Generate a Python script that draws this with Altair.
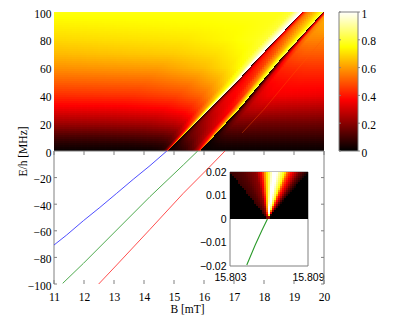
import altair as alt
import numpy as np
import pandas as pd

alt.data_transformers.disable_max_rows()

# ---- values ----
blue_B = [11.0, 11.42, 11.98, 12.53, 13.09, 13.64, 14.2, 14.76]
blue_E = [-70.7, -63.2, -52.4, -42.4, -31.8, -21.3, -11, 0]
green_B = [11.29, 11.98, 13.09, 14.2, 15.31, 15.79]
green_E = [-99.5, -84.5, -59.4, -34.3, -10.5, 0]
red_B = [12.49, 13.09, 14.2, 15.31, 16.14, 16.7]
red_E = [-100, -85.7, -58.9, -31.8, -13, 0]
faint_B = [17.27, 18.0, 19.0, 20.0]
faint_E = [13, 30, 56, 81.4]
inset_B = [15.80588, 15.80545, 15.80493, 15.80429]
inset_E = [0, -0.0049, -0.0112, -0.0196]

B_ticks = list(range(11, 21))
E_up = [0, 20, 40, 60, 80, 100]
E_low = [-100, -80, -60, -40, -20]
cbar_ticks = [0, 0.2, 0.4, 0.6, 0.8, 1]
inset_xt = [15.803, 15.809]
inset_yt = [-0.02, -0.01, 0, 0.01, 0.02]

# ridge positions (B at given E) and sampled field levels around them
ridge0_E = [0, 50, 65.5, 100]
ridge0_B = [14.77, 17.1, 17.75, 19.27]
ridge1_E = [0, 31, 65.5, 100]
ridge1_B = [15.87, 17.2, 18.53, 19.97]
rows_E = [0, 5, 10, 20, 30, 40, 50, 60, 70, 80, 90, 100]
left_w = [-9, -3, -1.5, -.7, -.35, -.15, -.05, 0]
left_v = [
    [.01, .01, .01, .01, .02, .04, .15, .4],
    [.05, .05, .05, .06, .07, .1, .25, .55],
    [.1, .1, .11, .12, .14, .2, .4, .7],
    [.22, .23, .24, .27, .3, .42, .6, .9],
    [.33, .34, .36, .4, .45, .58, .8, 1],
    [.42, .44, .47, .52, .58, .7, .9, 1],
    [.5, .52, .56, .62, .68, .78, .95, 1],
    [.57, .6, .65, .7, .74, .85, 1, 1],
    [.63, .67, .7, .74, .78, .9, 1, 1],
    [.68, .71, .74, .77, .8, .93, 1, 1],
    [.72, .74, .75, .77, .8, .93, 1, 1],
    [.76, .76, .77, .77, .8, .93, 1, 1],
]
mid_f = [0, .04, .12, .25, .5, .75, .9, 1]
mid_v = [
    [0, .01, .02, .03, .06, .12, .25, .5],
    [0, .02, .05, .08, .12, .2, .33, .6],
    [0, .04, .1, .14, .18, .26, .4, .7],
    [0, .08, .18, .22, .27, .32, .5, .78],
    [0, .12, .25, .3, .33, .38, .58, .82],
    [0, .15, .3, .35, .37, .45, .68, .85],
    [0, .18, .33, .37, .42, .55, .72, .85],
    [0, .2, .35, .4, .46, .6, .74, .85],
    [0, .22, .38, .43, .5, .62, .75, .85],
    [0, .25, .4, .48, .56, .66, .75, .85],
    [0, .28, .42, .52, .6, .68, .75, .85],
    [0, .3, .45, .55, .62, .7, .76, .85],
]
right_w = [0, .05, .15, .3, .6, 1.2, 2.5, 4.5]
right_v = [
    [0, 0, .005, .01, .01, .01, .01, .01],
    [0, .01, .02, .03, .04, .04, .04, .04],
    [0, .02, .05, .07, .08, .08, .08, .08],
    [0, .05, .13, .17, .17, .16, .16, .15],
    [0, .08, .2, .26, .27, .26, .25, .24],
    [0, .1, .25, .32, .35, .35, .34, .32],
    [0, .12, .3, .37, .38, .39, .39, .38],
    [0, .15, .33, .42, .43, .44, .44, .44],
    [0, .2, .4, .48, .5, .5, .5, .5],
    [0, .25, .5, .56, .56, .56, .56, .56],
    [0, .3, .55, .6, .62, .62, .62, .6],
    [0, .3, .6, .65, .65, .65, .65, .65],
]
fan_off = [-2.9, -1.9, -.9, -.46, -.15, .15, .38, .7, .92, 1.3, 1.54, 1.9, 2.5, 3.1]
fan_val = [.08, .12, .2, .38, .65, .85, 1, 1, .9, .75, .5, .35, .15, .03]
fan_apex = 15.8059


def sample(table, cols, E, c):
    tab = np.array(table, dtype=float)
    prof = [np.interp(E, rows_E, tab[:, j]) for j in range(tab.shape[1])]
    return float(np.interp(c, cols, prof))


def field(B, E):
    l0 = np.interp(E, ridge0_E, ridge0_B)
    l1 = np.interp(E, ridge1_E, ridge1_B)
    if B < l0:
        return sample(left_v, left_w, E, B - l0)
    if B < l1:
        return sample(mid_v, mid_f, E, (B - l0) / (l1 - l0))
    return sample(right_v, right_w, E, B - l1)


PX_B = 9 / 270
PX_E = 100 / 139
cells = []
for i in range(135):
    for j in range(70):
        b0 = 11 + 2 * i * PX_B
        e0 = 2 * j * PX_E
        cells.append(dict(b0=round(b0, 4), b1=round(b0 + 2 * PX_B, 4),
                          e0=round(e0, 4), e1=round(min(e0 + 2 * PX_E, 100), 4),
                          v=round(field(b0 + PX_B, e0 + PX_E), 3)))
# finer cells along the two ridges, drawn over the coarse ones
for i in range(270):
    for j in range(139):
        b0 = 11 + i * PX_B
        e0 = j * PX_E
        bm, em = b0 + PX_B / 2, e0 + PX_E / 2
        if min(abs(bm - np.interp(em, ridge0_E, ridge0_B)), abs(bm - np.interp(em, ridge1_E, ridge1_B))) < 0.3:
            cells.append(dict(b0=round(b0, 4), b1=round(b0 + PX_B, 4),
                              e0=round(e0, 4), e1=round(e0 + PX_E, 4),
                              v=round(field(bm, em), 3)))
heat_df = pd.DataFrame(cells)

icells = []
IX = 0.006 / 78
IY = 0.02 / 47
for i in range(39):
    for j in range(23):
        b0 = 15.803 + 2 * i * IX
        e0 = 2 * j * IY + IY
        em = e0 + IY
        off = (b0 + IX - fan_apex) * 1000 / (em / 0.02)
        icells.append(dict(b0=b0, b1=b0 + 2 * IX, e0=e0 - IY if j == 0 else e0, e1=e0 + 2 * IY,
                           v=round(float(np.interp(off, fan_off, fan_val, left=0, right=0)), 3)))
inset_df = pd.DataFrame(icells)

cb_df = pd.DataFrame({"a": [k / 139 for k in range(139)], "b": [(k + 1) / 139 for k in range(139)]})
cb_df["v"] = cb_df["a"]

# ---- scales ----
GRAY = "#808080"
SERIF = "Liberation Serif"
SANS = "Liberation Sans"
color = alt.Scale(domain=[0, .365, .746, 1], range=["#000000", "#ff0000", "#ffff00", "#ffffff"], interpolate="rgb")
X = alt.Scale(domain=[11, 20], range=[0, 270])
YU = alt.Scale(domain=[0, 100], range=[139, 0])
YL = alt.Scale(domain=[-100, 0], range=[272, 139])
IXS = alt.Scale(domain=[15.803, 15.809], range=[176, 254])
IYS = alt.Scale(domain=[-0.02, 0.02], range=[254, 160])
CX = alt.Scale(domain=[0, 1], range=[285, 304])
CY = alt.Scale(domain=[0, 1], range=[139, 0])
common_axis = dict(tickSize=0, grid=False, labelFont=SERIF, labelFontSize=11.5, labelColor="#000000",
                   labelFlush=False)

heat = alt.Chart(heat_df).mark_rect().encode(
    x=alt.X("b0:Q", scale=X, axis=alt.Axis(orient="bottom", values=B_ticks, domain=False, labelPadding=7,
                                           title="B [mT]", titleFont=SERIF, titleFontSize=11.5,
                                           titleFontWeight="normal", titleX=133, titleY=25,
                                           titleBaseline="middle", **common_axis)),
    x2="b1:Q",
    y=alt.Y("e0:Q", scale=YU, axis=alt.Axis(orient="left", values=E_up, domain=False, labelPadding=3, labelOffset=2,
                                            title="E/h [MHz]", titleFont=SERIF, titleFontSize=11.5,
                                            titleFontWeight="normal", titleX=-26, titleY=139, **common_axis)),
    y2="e1:Q",
    color=alt.Color("v:Q", scale=color, legend=None),
)


def curve(bs, es, col, xs, ys, w=0.9, op=1.0):
    d = pd.DataFrame({"B": bs, "E": es})
    return alt.Chart(d).mark_line(color=col, strokeWidth=w, opacity=op).encode(
        x=alt.X("B:Q", scale=xs, axis=None), y=alt.Y("E:Q", scale=ys, axis=None))


faint = curve(faint_B, faint_E, "#ff5a00", X, YU, 0.7, 0.55)

low_axis = alt.Chart(pd.DataFrame({"B": [11, 11], "E": [-100, 0]})).mark_line(color=GRAY, strokeWidth=1).encode(
    x=alt.X("B:Q", scale=X, axis=None),
    y=alt.Y("E:Q", scale=YL, axis=alt.Axis(orient="left", values=E_low, domain=False, labelPadding=3, labelOffset=2,
                                           title=None, **common_axis)),
)
right_line = curve([20, 20], [-100, 0], GRAY, X, YL, 1)
top_line = curve([11, 20], [0, 0], GRAY, X, YL, 1)

tk_top = alt.Chart(pd.DataFrame({"B": B_ticks, "a": 0, "b": -3})).mark_rule(color=GRAY).encode(
    x=alt.X("B:Q", scale=X, axis=None), y=alt.Y("a:Q", scale=YL, axis=None), y2="b:Q")
tk_bot = alt.Chart(pd.DataFrame({"B": B_ticks, "a": -100, "b": -97})).mark_rule(color=GRAY).encode(
    x=alt.X("B:Q", scale=X, axis=None), y=alt.Y("a:Q", scale=YL, axis=None), y2="b:Q")
tk_right = alt.Chart(pd.DataFrame({"E": E_low, "a": 20, "b": 19.9})).mark_rule(color=GRAY).encode(
    y=alt.Y("E:Q", scale=YL, axis=None), x=alt.X("a:Q", scale=X, axis=None), x2="b:Q")
tk_left = alt.Chart(pd.DataFrame({"E": E_low, "a": 11, "b": 11.1})).mark_rule(color=GRAY).encode(
    y=alt.Y("E:Q", scale=YL, axis=None), x=alt.X("a:Q", scale=X, axis=None), x2="b:Q")

inset_bg = alt.Chart(pd.DataFrame({"a": [15.803], "b": [15.809], "c": [-0.02], "d": [0.02]})).mark_rect(
    fill="white", stroke=GRAY, strokeWidth=1).encode(
    x=alt.X("a:Q", scale=IXS, axis=alt.Axis(orient="bottom", values=inset_xt, domain=False, offset=-18, labelPadding=6,
                                            format=".3f", title=None, tickSize=0, grid=False, labelFont=SANS,
                                            labelFontSize=10.5, labelColor="#000000", labelFlush=False,
                                            labelOverlap=False)),
    x2="b:Q",
    y=alt.Y("c:Q", scale=IYS, axis=alt.Axis(orient="left", values=inset_yt, domain=False, offset=-176, labelPadding=4,
                                            labelExpr="datum.value==0?'0':format(datum.value,'.2f')",
                                            title=None, tickSize=0, grid=False, labelFont=SANS, labelFlush=False,
                                            labelFontSize=10.5, labelColor="#000000")),
    y2="d:Q",
)
inset_heat = alt.Chart(inset_df).mark_rect().encode(
    x=alt.X("b0:Q", scale=IXS, axis=None), x2="b1:Q",
    y=alt.Y("e0:Q", scale=IYS, axis=None), y2="e1:Q",
    color=alt.Color("v:Q", scale=color, legend=None),
)

cb = alt.Chart(cb_df.assign(l=0, r=1)).mark_rect().encode(
    x=alt.X("l:Q", scale=CX, axis=None), x2="r:Q",
    y=alt.Y("a:Q", scale=CY, axis=alt.Axis(orient="right", values=cbar_ticks, domain=False, offset=34, labelPadding=3,
                                           labelOffset=2, labelExpr="format(datum.value,'.2~f')",
                                           title=None, **common_axis)),
    y2="b:Q",
    color=alt.Color("v:Q", scale=color, legend=None),
)
cb_frame = alt.Chart(pd.DataFrame({"a": [0], "b": [1], "c": [0], "d": [1]})).mark_rect(
    fill=None, stroke=GRAY, strokeWidth=1).encode(
    x=alt.X("a:Q", scale=CX, axis=None), x2="b:Q", y=alt.Y("c:Q", scale=CY, axis=None), y2="d:Q")
cb_tl = alt.Chart(pd.DataFrame({"v": cbar_ticks, "a": 0, "b": 0.1})).mark_rule(color=GRAY).encode(
    y=alt.Y("v:Q", scale=CY, axis=None), x=alt.X("a:Q", scale=CX, axis=None), x2="b:Q")
cb_tr = alt.Chart(pd.DataFrame({"v": cbar_ticks, "a": 1, "b": 1.1})).mark_rule(color=GRAY).encode(
    y=alt.Y("v:Q", scale=CY, axis=None), x=alt.X("a:Q", scale=CX, axis=None), x2="b:Q")

chart = alt.layer(
    heat, faint, low_axis, right_line, top_line, tk_top, tk_bot, tk_right, tk_left,
    curve(blue_B, blue_E, "#3a3aff", X, YL),
    curve(green_B, green_E, "#3aa03a", X, YL),
    curve(red_B, red_E, "#ff3a3a", X, YL),
    inset_bg, inset_heat,
    curve(inset_B, inset_E, "#2a9a2a", IXS, alt.Scale(domain=[-0.02, 0.02], range=[254, 160]), 1.1),
    cb, cb_frame, cb_tl, cb_tr,
).resolve_scale(x="independent", y="independent", color="independent").properties(
    width=270, height=272,
    autosize=alt.AutoSizeParams(type="none"),
    padding={"left": 46, "top": 4, "right": 79, "bottom": 32},
).configure_view(stroke=None)

chart.save("out.html", embed_options={"renderer": "svg", "actions": False})
